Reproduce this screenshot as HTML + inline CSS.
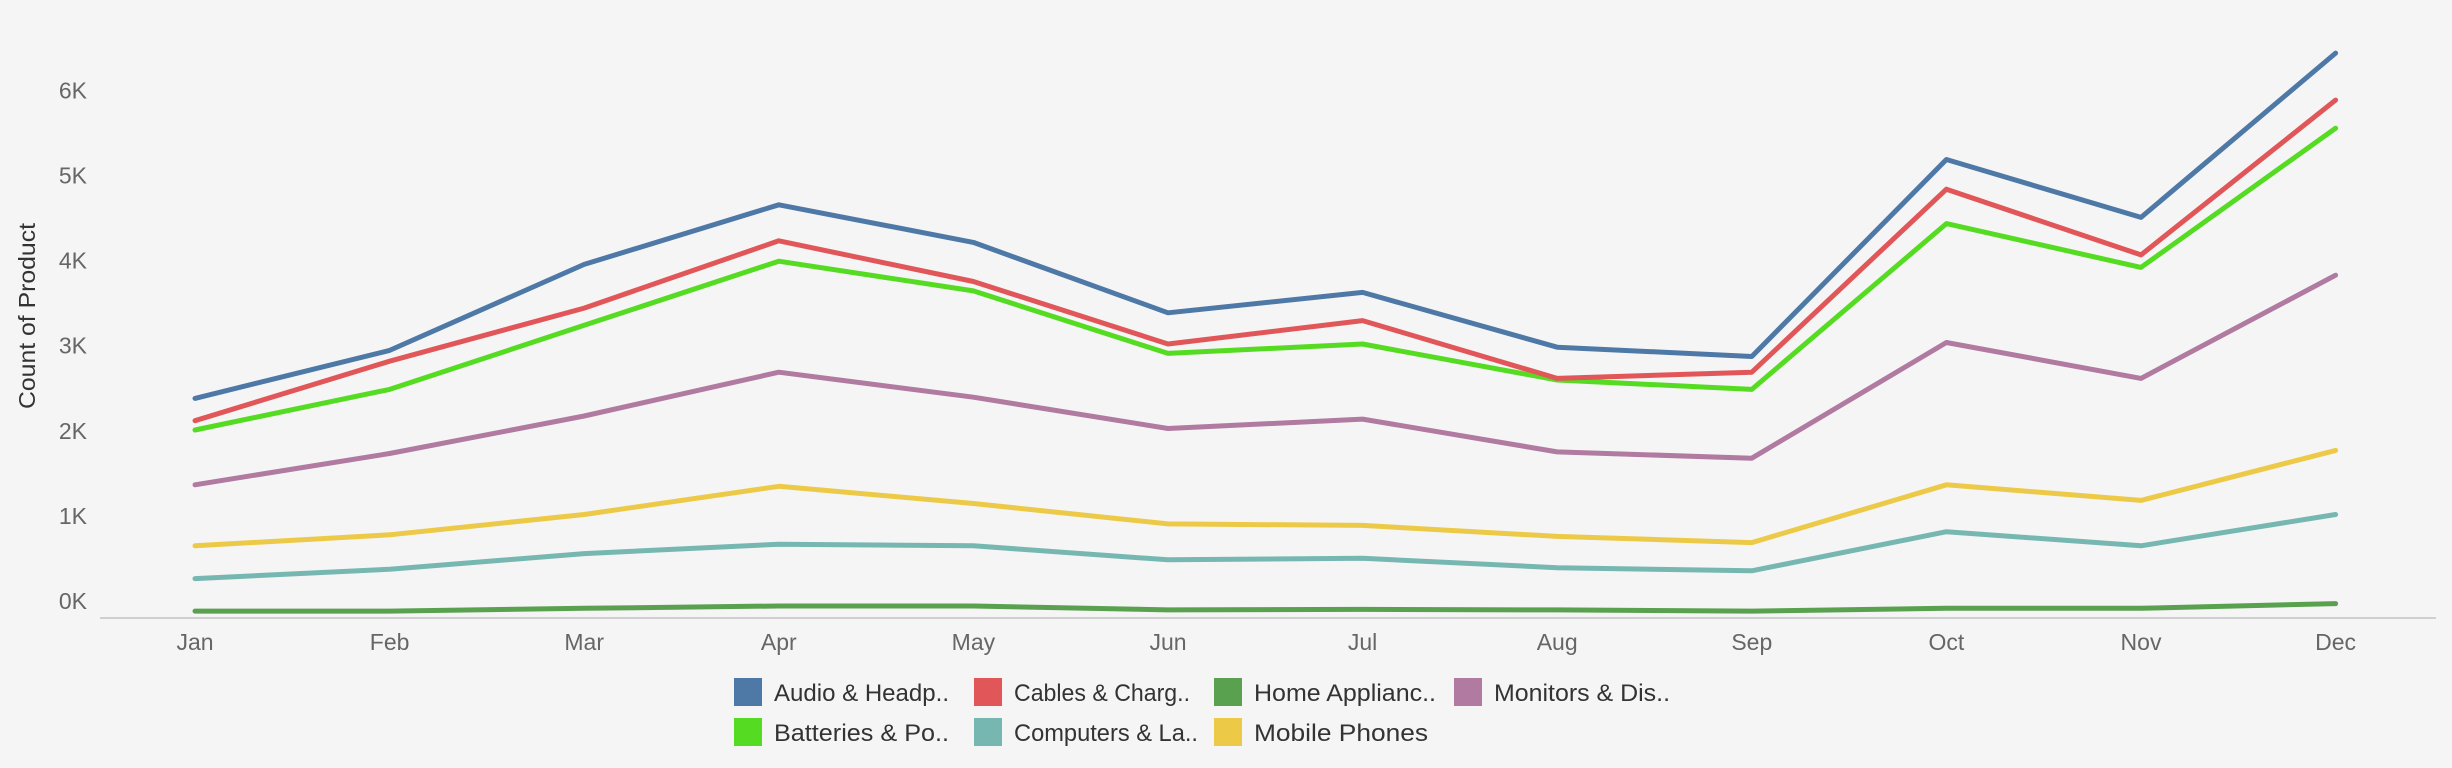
<!DOCTYPE html>
<html><head><meta charset="utf-8"><style>
html,body{margin:0;padding:0;background:#f5f5f5;}
svg{display:block;font-family:"Liberation Sans",sans-serif;}
</style></head><body>
<svg id="chart" width="2452" height="768" viewBox="0 0 2452 768" xmlns="http://www.w3.org/2000/svg">
<rect width="2452" height="768" fill="#f5f5f5"/>
<text transform="translate(35,316) rotate(-90)" text-anchor="middle" font-size="23" fill="#333" textLength="186" lengthAdjust="spacingAndGlyphs">Count of Product</text>
<line x1="100" y1="618" x2="2436" y2="618" stroke="#cfcfcf" stroke-width="2"/>
<g id="yticks"></g><g id="xticks"></g><g id="lines"></g><g id="legend"></g>
</svg>
<script>
const months = ["Jan","Feb","Mar","Apr","May","Jun","Jul","Aug","Sep","Oct","Nov","Dec"];
const yTicks = [0,1000,2000,3000,4000,5000,6000];
const yTickLabels = ["0K","1K","2K","3K","4K","5K","6K"];
const seriesNames = ["Audio & Headp..","Cables & Charg..","Home Applianc..","Monitors & Dis..","Batteries & Po..","Computers & La..","Mobile Phones"];
const seriesColors = ["#4e79a7","#e15759","#59a14f","#b07aa1","#55dc22","#76b7b2","#edc948"];
const audio = [2510,3074,4085,4785,4343,3516,3755,3112,3002,5317,4637,6567];
const cables = [2248,2947,3571,4362,3884,3149,3424,2745,2818,4968,4196,6015];
const home = [10,10,43,70,70,25,30,25,10,43,43,99];
const monitors = [1495,1863,2303,2818,2524,2156,2267,1881,1807,3167,2745,3958];
const batteries = [2139,2616,3369,4122,3773,3039,3149,2726,2616,4564,4049,5685];
const computers = [392,503,686,797,778,613,631,521,484,944,778,1146];
const mobile = [778,907,1146,1477,1275,1035,1018,888,815,1495,1311,1899];
const seriesData = [audio,cables,home,monitors,batteries,computers,mobile];
const drawOrder = [2,5,6,3,4,1,0];

const NS = "http://www.w3.org/2000/svg";
function xPos(i){ return 195 + i*194.6; }
function yPos(v){ return 612 - v*0.0851; }
function mk(tag, attrs, parent){ const e=document.createElementNS(NS,tag); for(const k in attrs) e.setAttribute(k,attrs[k]); parent.appendChild(e); return e; }

const yt = document.getElementById("yticks");
yTicks.forEach((v,i)=>{
  const t = mk("text",{x:87,y:yPos(v)-3,"text-anchor":"end","font-size":"23",fill:"#666"},yt);
  
  
  t.textContent = yTickLabels[i];
});
const xt = document.getElementById("xticks");
months.forEach((m,i)=>{
  const t = mk("text",{x:xPos(i),y:650,"text-anchor":"middle","font-size":"23",fill:"#666"},xt);
  
  
  t.textContent = m;
});
const lg = document.getElementById("lines");
drawOrder.forEach(s=>{
  const pts = seriesData[s].map((v,i)=>xPos(i).toFixed(1)+","+yPos(v).toFixed(1)).join(" ");
  const p = mk("polyline",{points:pts,fill:"none",stroke:seriesColors[s],"stroke-width":"5","stroke-linejoin":"round","stroke-linecap":"round"},lg);
  
  
});
const leg = document.getElementById("legend");
const legPos = [[734,678],[974,678],[1214,678],[1454,678],[734,718],[974,718],[1214,718]];
const legLen = [175,176,182,176,175,184,174];
seriesNames.forEach((n,i)=>{
  const [x,y] = legPos[i];
  const r = mk("rect",{x:x,y:y,width:28,height:28,fill:seriesColors[i]},leg);
  
  
  const t = mk("text",{x:x+40,y:y+23,"font-size":"24",fill:"#333",textLength:legLen[i],lengthAdjust:"spacingAndGlyphs"},leg);
  
  
  t.textContent = n;
});
</script>
</body></html>
